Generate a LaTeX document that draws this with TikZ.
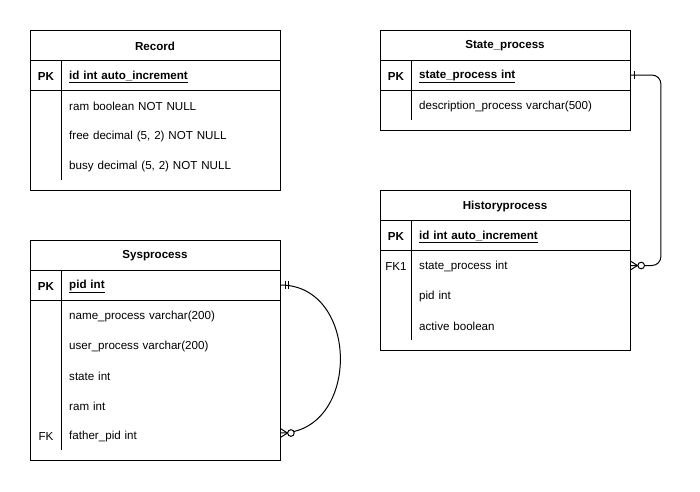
\documentclass[tikz,border=0pt]{standalone}
\usepackage{fontspec}
\setmainfont{Liberation Sans}
\begin{document}
\begin{tikzpicture}[x=1pt,y=-1pt,
  ent/.style={draw, line width=1pt, minimum width=250pt, inner sep=0pt, anchor=north west},
  ttl/.style={font=\fontsize{11.6}{14}\selectfont\bfseries, anchor=center, inner sep=0pt, yshift=-1pt},
  keycell/.style={font=\fontsize{11.6}{14}\selectfont, anchor=center, inner sep=0pt, yshift=-1.5pt},
  fld/.style={font=\fontsize{11.6}{14}\selectfont, anchor=west, minimum width=219pt, minimum height=30pt, text width=203pt, inner xsep=8pt, inner ysep=0pt, align=left, yshift=-1.5pt},
  ln/.style={line width=1pt},
  bf/.style={font=\fontsize{11.6}{14}\selectfont\bfseries}
]
\useasboundingbox (0,0) rectangle (700,491);

% ---------- Record ----------
\node[ent, minimum height=160pt] (rec) at (30,30) {};
\draw[ln] (30,60) -- (280,60);
\draw[ln] (30,90) -- (280,90);
\draw[ln] (61,60) -- (61,180);
\node[ttl] (recT) at (155,45) {Record};
\node[keycell, bf] (recK) at (46,75) {PK};
\node[fld, bf] (recPK) at (61,75) {\underline{id int auto\_increment}};
\node[fld] (recF1) at (61,105) {ram boolean NOT NULL};
\node[fld] (recF2) at (61,135) {free decimal (5, 2) NOT NULL};
\node[fld] (recF3) at (61,165) {busy decimal (5, 2) NOT NULL};

% ---------- State_process ----------
\node[ent, minimum height=100pt] (st) at (380,30) {};
\draw[ln] (380,60) -- (630,60);
\draw[ln] (380,90) -- (630,90);
\draw[ln] (411,60) -- (411,120);
\node[ttl] (stT) at (505,45) {State\_process};
\node[keycell, bf] (stK) at (396,75) {PK};
\node[fld, bf] (stPK) at (411,75) {\underline{state\_process int}};
\node[fld] (stF1) at (411,105) {description\_process varchar(500)};

% ---------- Historyprocess ----------
\node[ent, minimum height=160pt] (hist) at (380,190) {};
\draw[ln] (380,220) -- (630,220);
\draw[ln] (380,250) -- (630,250);
\draw[ln] (411,220) -- (411,340);
\node[ttl] (histT) at (505,205) {Historyprocess};
\node[keycell, bf] (histK) at (396,235) {PK};
\node[fld, bf] (histPK) at (411,235) {\underline{id int auto\_increment}};
\node[keycell] (histK1) at (396,265) {FK1};
\node[fld] (histFK) at (411,265) {state\_process int};
\node[fld] (histF2) at (411,295) {pid int};
\node[fld] (histF3) at (411,325) {active boolean};

% ---------- Sysprocess ----------
\node[ent, minimum height=220pt] (sys) at (30,240) {};
\draw[ln] (30,270) -- (280,270);
\draw[ln] (30,300) -- (280,300);
\draw[ln] (61,270) -- (61,450);
\node[ttl] (sysT) at (155,255) {Sysprocess};
\node[keycell, bf] (sysK) at (46,285) {PK};
\node[fld, bf] (sysPK) at (61,285) {\underline{pid int}};
\node[fld] (sysF1) at (61,315) {name\_process varchar(200)};
\node[fld] (sysF2) at (61,345) {user\_process varchar(200)};
\node[fld] (sysF3) at (61,375) {state int};
\node[fld] (sysF4) at (61,405) {ram int};
\node[keycell] (sysKF) at (46,435) {FK};
\node[fld] (sysFK) at (61,435) {father\_pid int};

% ---------- Connector: Sysprocess self relation ----------
\draw[ln] ([yshift=1.5pt]sysPK.east) .. controls +(80,0) and +(80,0) .. ([yshift=3.5pt]sysFK.east);
\draw[ln] ([xshift=5pt,yshift=5.5pt]sysPK.east) -- ([xshift=5pt,yshift=-2.5pt]sysPK.east);
\draw[ln] ([xshift=8.5pt,yshift=5.5pt]sysPK.east) -- ([xshift=8.5pt,yshift=-2.5pt]sysPK.east);
\draw[ln] ([yshift=8pt]sysFK.east) -- ([xshift=7pt,yshift=3.5pt]sysFK.east) -- ([yshift=-1pt]sysFK.east);
\draw[ln, fill=white] ([xshift=10.5pt,yshift=3.5pt]sysFK.east) circle (3.3pt);

% ---------- Connector: State_process -> Historyprocess ----------
\draw[ln, rounded corners=9pt] ([yshift=1.5pt]stPK.east) -- ++(30.5,0) |- ([yshift=1pt]histFK.east);
\draw[ln] ([xshift=4pt,yshift=5.5pt]stPK.east) -- ([xshift=4pt,yshift=-2.5pt]stPK.east);
\draw[ln] ([yshift=5.5pt]histFK.east) -- ([xshift=7pt,yshift=1pt]histFK.east) -- ([yshift=-3.5pt]histFK.east);
\draw[ln, fill=white] ([xshift=10.8pt,yshift=1pt]histFK.east) circle (3.3pt);
\end{tikzpicture}
\end{document}
